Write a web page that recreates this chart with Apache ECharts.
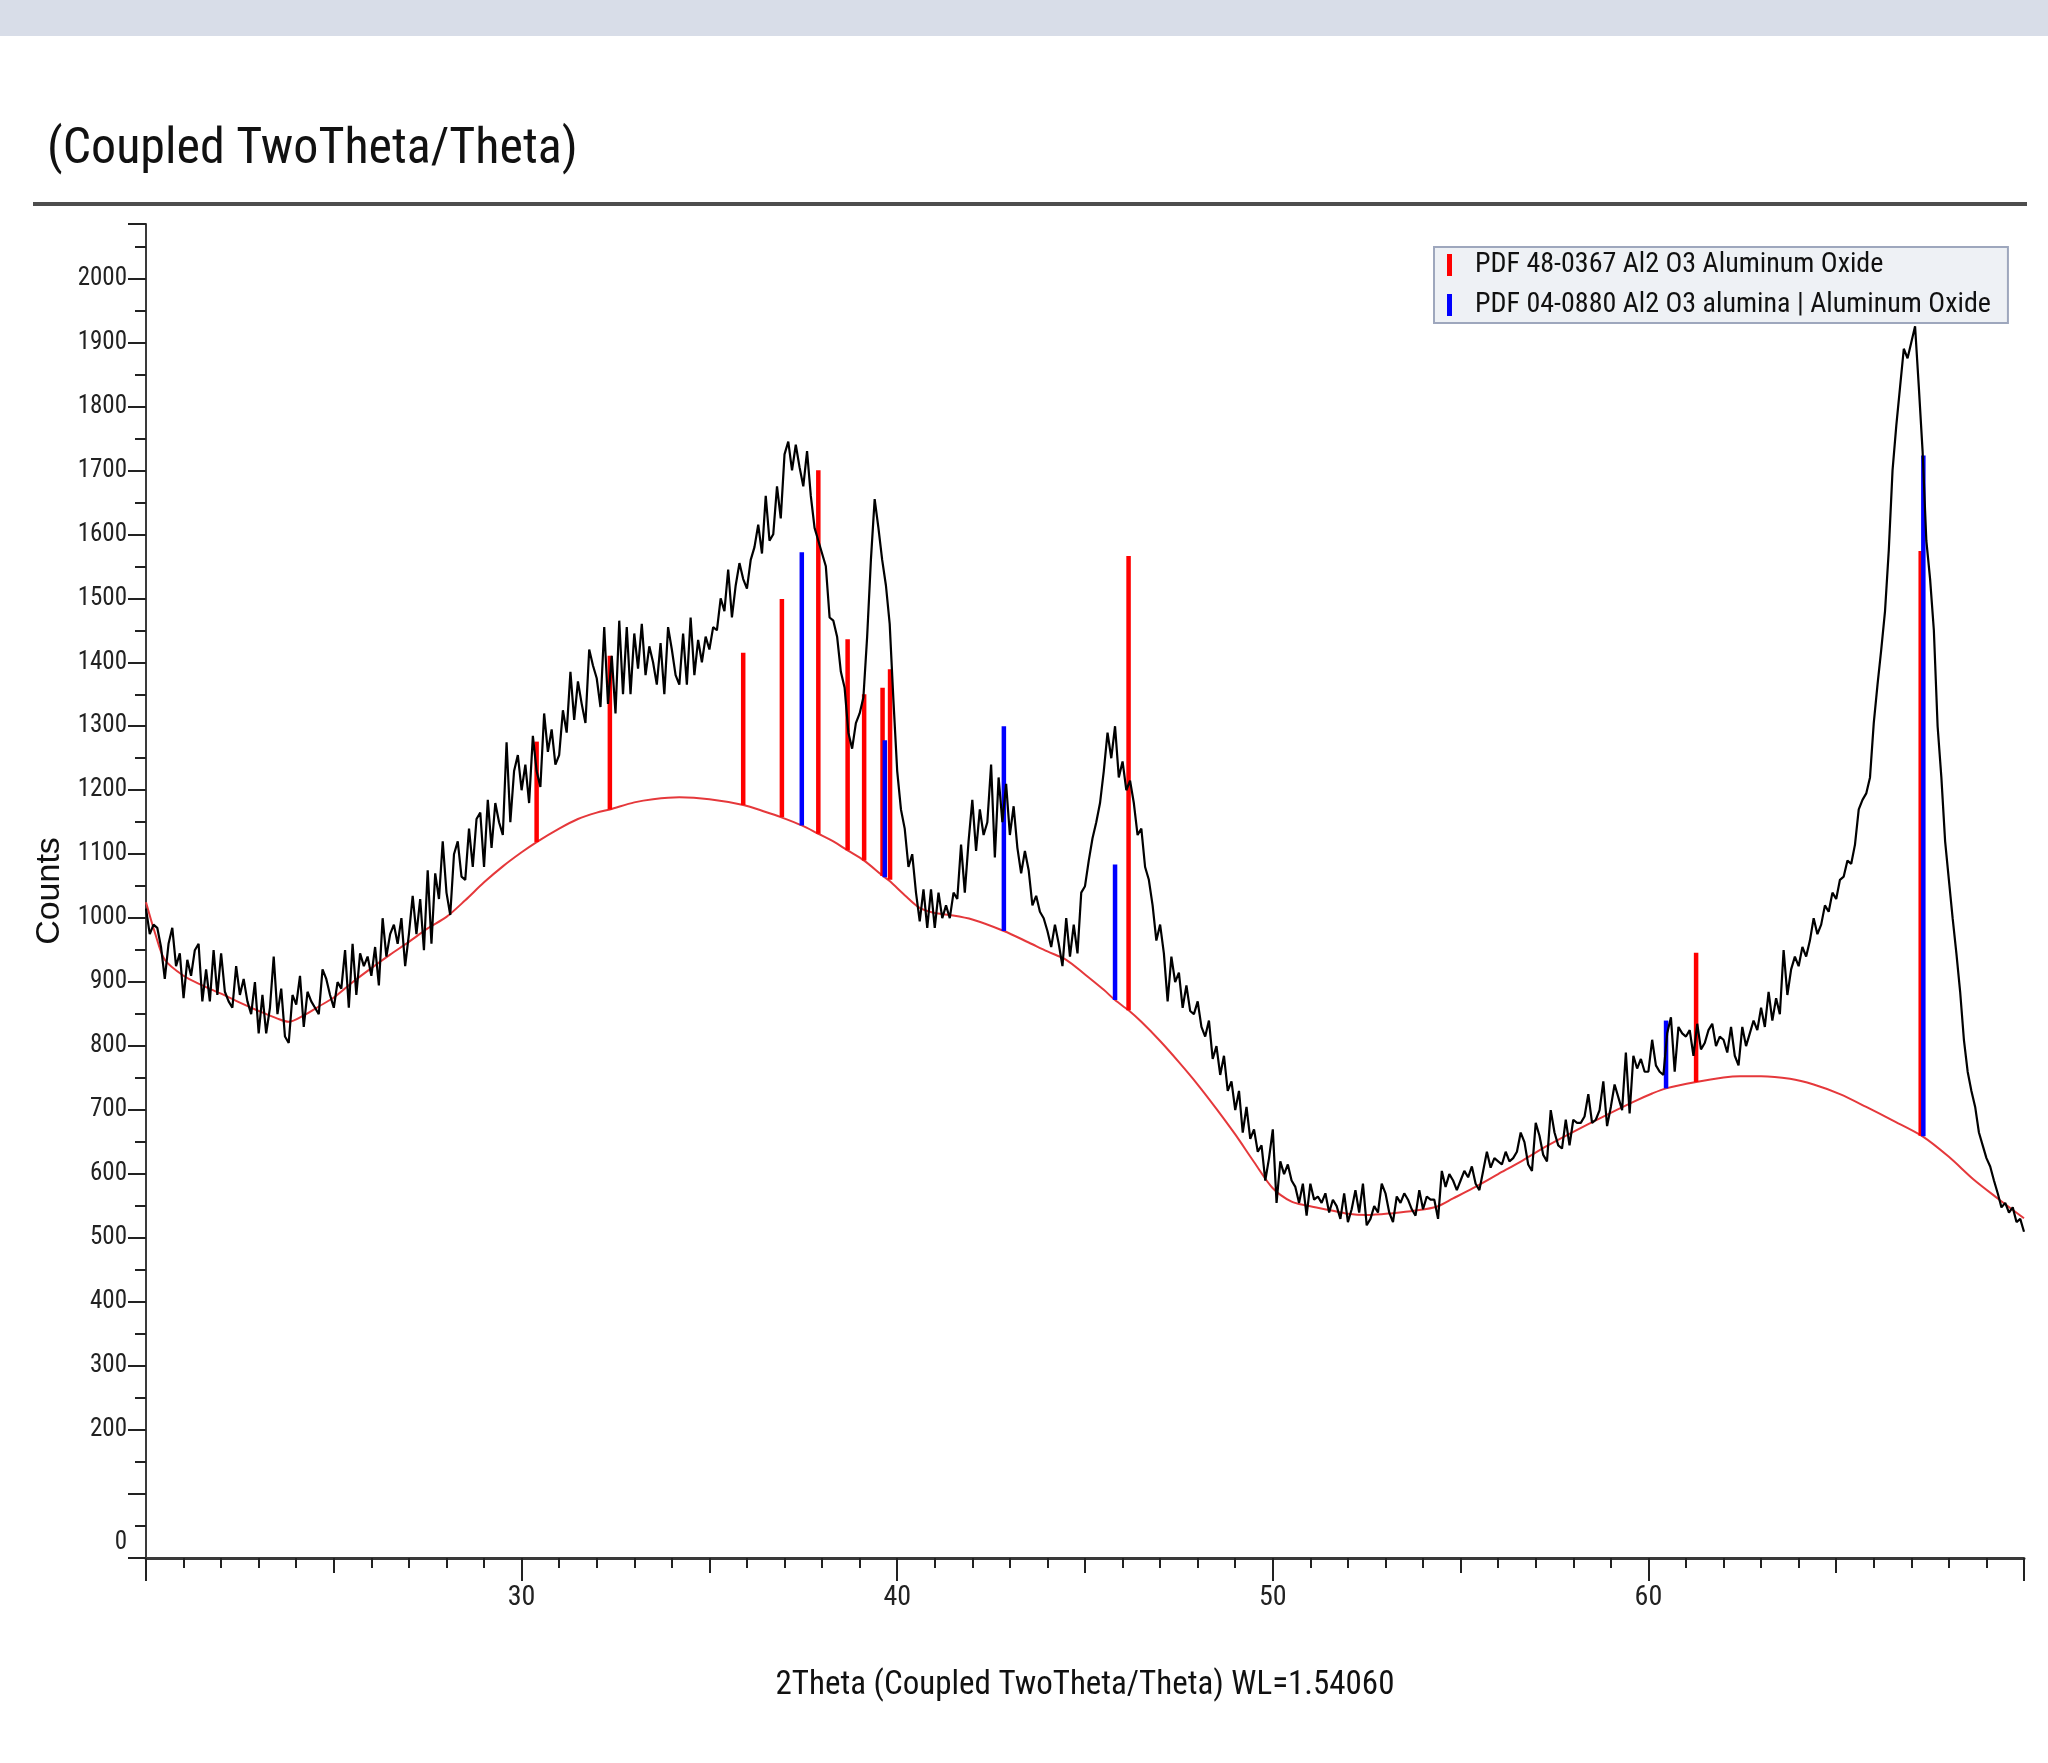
<!DOCTYPE html>
<html lang="en">
<head>
    <meta charset="UTF-8">
    <title>Coupled TwoTheta/Theta</title>
    <script src="https://cdn.jsdelivr.net/npm/echarts/dist/echarts.min.js"></script>
    <style>
        body {
            padding: 0;
            margin: 0;
            border: none;
            background: #fff;
        }
        #ec {
            width: 2048px;
            height: 1763px;
        }
    </style>
</head>
<body>
<div id="ec"></div>
<script>
    // measured scan, one value every 0.1 deg from 20.0 to 70.0
    const twoThetaStart = 20.0;
    const twoThetaStep = 0.1;
    const counts = [
        1015, 975, 990, 985, 955, 905, 960, 985, 925, 945,
        875, 935, 910, 950, 960, 870, 920, 870, 950, 880,
        945, 885, 870, 860, 925, 880, 905, 870, 850, 900,
        820, 880, 820, 860, 940, 850, 890, 815, 805, 880,
        865, 910, 830, 885, 870, 860, 850, 920, 905, 880,
        860, 900, 890, 950, 860, 960, 880, 945, 925, 940,
        910, 955, 895, 1000, 940, 975, 990, 960, 1000, 925,
        975, 1035, 975, 1030, 950, 1075, 960, 1070, 1030, 1120,
        1040, 1005, 1100, 1120, 1065, 1060, 1140, 1080, 1155, 1165,
        1080, 1185, 1110, 1180, 1150, 1130, 1275, 1150, 1230, 1255,
        1200, 1240, 1180, 1285, 1230, 1205, 1320, 1260, 1295, 1240,
        1255, 1325, 1290, 1385, 1310, 1370, 1335, 1305, 1420, 1395,
        1375, 1330, 1455, 1335, 1410, 1320, 1465, 1350, 1455, 1350,
        1445, 1390, 1460, 1380, 1425, 1400, 1365, 1430, 1350, 1455,
        1420, 1380, 1365, 1445, 1365, 1470, 1380, 1435, 1400, 1440,
        1420, 1455, 1450, 1500, 1480, 1545, 1470, 1520, 1555, 1530,
        1515, 1560, 1580, 1615, 1570, 1660, 1590, 1600, 1675, 1625,
        1725, 1745, 1700, 1740, 1705, 1675, 1730, 1660, 1610, 1590,
        1570, 1550, 1470, 1465, 1440, 1385, 1360, 1290, 1265, 1305,
        1320, 1345, 1440, 1560, 1655, 1610, 1560, 1520, 1460, 1340,
        1230, 1170, 1140, 1080, 1100, 1040, 995, 1045, 985, 1045,
        985, 1040, 1000, 1020, 1000, 1040, 1030, 1115, 1040, 1120,
        1185, 1105, 1170, 1130, 1150, 1240, 1095, 1220, 1150, 1210,
        1130, 1175, 1110, 1070, 1105, 1075, 1020, 1035, 1010, 1000,
        980, 955, 990, 960, 925, 1000, 940, 990, 945, 1040,
        1050, 1090, 1125, 1150, 1180, 1230, 1290, 1250, 1300, 1220,
        1245, 1200, 1215, 1180, 1130, 1140, 1080, 1060, 1020, 965,
        990, 945, 870, 940, 900, 915, 860, 895, 855, 850,
        870, 830, 815, 840, 780, 800, 755, 785, 730, 745,
        700, 730, 665, 705, 655, 670, 635, 645, 590, 625,
        670, 555, 620, 600, 615, 590, 580, 555, 585, 535,
        585, 560, 565, 555, 570, 540, 560, 550, 530, 570,
        525, 545, 575, 540, 585, 520, 530, 550, 540, 585,
        570, 540, 525, 565, 555, 570, 560, 545, 535, 575,
        545, 565, 560, 560, 530, 605, 580, 600, 590, 575,
        590, 605, 595, 612, 585, 575, 605, 635, 610, 625,
        620, 615, 635, 620, 625, 635, 665, 650, 615, 605,
        680, 660, 630, 620, 700, 665, 645, 640, 685, 645,
        685, 680, 680, 690, 725, 680, 685, 700, 745, 675,
        705, 740, 720, 700, 790, 695, 785, 765, 780, 760,
        760, 810, 770, 760, 755, 820, 845, 760, 830, 820,
        815, 825, 785, 835, 795, 805, 825, 835, 800, 815,
        810, 790, 830, 785, 770, 830, 800, 820, 840, 825,
        860, 830, 885, 840, 875, 850, 950, 880, 920, 940,
        925, 955, 940, 965, 1000, 975, 990, 1020, 1010, 1040,
        1030, 1060, 1065, 1090, 1085, 1115, 1170, 1185, 1195, 1220,
        1305, 1365, 1420, 1480, 1575, 1700, 1770, 1830, 1890, 1875,
        1900, 1925, 1830, 1730, 1590, 1530, 1450, 1300, 1220, 1120,
        1060, 1000, 945, 885, 810, 760, 730, 705, 665, 645,
        625, 612, 590, 570, 548, 555, 540, 548, 525, 530,
        510
    ];

    // fitted background (red curve)
    const bgTheta = [20.0, 20.25, 20.5, 21.0, 21.5, 22.0, 22.5, 23.0, 23.5, 23.8, 24.2, 24.6, 25.0, 25.5, 26.0, 26.5,
        27.0, 27.5, 28.0, 28.5, 29.0, 29.5, 30.0, 30.4, 31.0, 31.5, 32.0, 32.35, 33.0, 33.5, 34.2, 35.0, 35.9, 36.5,
        36.9, 37.46, 37.9, 38.3, 38.68, 39.12, 39.6, 39.8, 40.2, 40.6, 41.0, 41.4, 42.0, 42.84, 43.5, 44.0, 44.5,
        45.0, 45.5, 45.8, 46.16, 46.5, 47.0, 47.5, 48.0, 48.5, 49.0, 49.5, 50.0, 50.5, 50.9, 51.5, 52.0, 52.5, 53.2,
        53.8, 54.36, 54.8, 55.33, 56.0, 56.67, 57.3, 58.0, 58.8, 59.6, 60.1, 60.47, 61.27, 62.0, 62.44, 63.0, 63.77,
        64.4, 65.1, 65.8, 66.5, 67.3, 68.0, 68.65, 69.3, 70.0];
    const bgCounts = [1025, 975, 935, 910, 895, 882, 868, 855, 843, 838, 848, 862, 876, 900, 922, 943,
        963, 984, 1002, 1028, 1056, 1081, 1103, 1119, 1140, 1155, 1165, 1170, 1181, 1186, 1189, 1186, 1177, 1166,
        1158, 1145, 1132, 1120, 1106, 1090, 1067, 1058, 1036, 1016, 1008, 1005, 998, 980, 962, 948, 935,
        912, 888, 872, 856, 838, 808, 775, 740, 702, 662, 619, 578, 557, 551, 544, 538, 536, 539,
        543, 549, 562, 578, 600, 622, 644, 666, 690, 713, 726, 734, 744, 751, 753, 753, 749,
        740, 725, 705, 684, 659, 627, 592, 562, 531];

    // reference patterns: stick position, foot (on background) and head
    const pdf48Name = 'PDF 48-0367 Al2 O3 Aluminum Oxide';
    const pdf48Theta = [30.40, 32.35, 35.90, 36.93, 37.90, 38.68, 39.12, 39.61, 39.81, 46.16, 61.27, 67.25];
    const pdf48Base = [1119, 1170, 1177, 1158, 1132, 1106, 1090, 1066, 1060, 856, 744, 660];
    const pdf48Top = [1276, 1410, 1415, 1499, 1700, 1436, 1350, 1360, 1389, 1566, 946, 1574];

    const pdf04Name = 'PDF 04-0880 Al2 O3 alumina | Aluminum Oxide';
    const pdf04Theta = [37.46, 39.67, 42.84, 45.80, 60.47, 67.32];
    const pdf04Base = [1145, 1064, 980, 872, 734, 659];
    const pdf04Top = [1572, 1278, 1300, 1084, 840, 1723];

    // the picture uses a narrow face: take the installed condensed face closest to Arial Narrow
    function textWidth(font, text) {
        let ctx = document.createElement('canvas').getContext('2d');
        ctx.font = font;
        return ctx.measureText(text).width;
    }
    const probe = 'PDF 04-0880 Al2 O3 alumina | Aluminum Oxide';
    const baseWidth = textWidth("30px 'Liberation Sans'", probe);
    const fontCandidates = [
        {stretch: '', family: "'Liberation Sans Narrow'"},
        {stretch: 'condensed', family: "Roboto"},
        {stretch: 'condensed', family: "'Open Sans'"}
    ];
    fontCandidates.forEach(c => {
        if (c.stretch) {
            let w = textWidth(c.stretch + ' 30px ' + c.family, probe);
            let w0 = textWidth('30px ' + c.family, probe);
            c.ratio = w < w0 * 0.97 ? w / baseWidth : null;
        } else {
            let w = textWidth('30px ' + c.family + ', monospace', probe);
            let wm = textWidth('30px monospace', probe);
            c.ratio = Math.abs(w - wm) > 0.5 ? w / baseWidth : null;
        }
    });
    let pick = {stretch: '', family: "'Liberation Sans'", ratio: 1};
    fontCandidates.forEach(c => {
        if (c.ratio && c.ratio < 0.93 && Math.abs(c.ratio - 0.82) < Math.abs(pick.ratio - 0.82)) {
            pick = c;
        }
    });
    const narrow = pick.family + ", 'Liberation Sans', Arial, sans-serif";
    const narrowWeight = pick.stretch || 'normal';
    const regular = "'Liberation Sans', Arial, sans-serif";
    // sizes tuned for a face 0.82 as wide as Arial, kept at the same width for the picked face
    const sz = n => Math.round(n * 0.82 / pick.ratio);

    function stickSeries(name, color, theta, base, top, z) {
        return {
            name: name,
            type: 'custom',
            z: z,
            itemStyle: {color: color},
            encode: {x: 0, y: [1, 2]},
            data: theta.map((t, i) => [t, base[i], top[i]]),
            renderItem: function (params, api) {
                let p0 = api.coord([api.value(0), api.value(1)]);
                let p1 = api.coord([api.value(0), api.value(2)]);
                return {
                    type: 'line',
                    shape: {x1: p0[0], y1: p0[1], x2: p1[0], y2: p1[1]},
                    style: {stroke: color, lineWidth: 4.5}
                };
            }
        };
    }

    let ec = echarts.init(document.getElementById('ec'));
    let option = {
        animation: false,
        backgroundColor: '#ffffff',
        graphic: [
            {type: 'rect', shape: {x: 0, y: 0, width: 2048, height: 36}, style: {fill: '#d8dde8'}},
            {
                type: 'text', left: 47, top: 125,
                style: {text: '(Coupled TwoTheta/Theta)', fontSize: sz(53), fontWeight: narrowWeight, fontFamily: narrow, fill: '#111'}
            },
            {type: 'rect', shape: {x: 33, y: 202, width: 1994, height: 4}, style: {fill: '#4d4d4d'}}
        ],
        legend: {
            orient: 'vertical',
            left: 1434,
            top: 247,
            padding: [4, 17, 4, 13],
            itemGap: 12,
            itemWidth: 5,
            itemHeight: 22,
            backgroundColor: '#eef1f5',
            borderColor: '#9ea7bd',
            borderWidth: 2,
            borderRadius: 0,
            textStyle: {fontSize: sz(30), fontWeight: narrowWeight, fontFamily: narrow, color: '#111', padding: [0, 0, 0, 18]},
            data: [
                {name: pdf48Name, icon: 'rect'},
                {name: pdf04Name, icon: 'rect'}
            ]
        },
        grid: {
            left: 146,
            right: 24,
            top: 224,
            bottom: 205,
            containLabel: false
        },
        xAxis: [
            {
                type: 'value',
                min: 20,
                max: 70,
                interval: 10,
                position: 'bottom',
                name: '2Theta (Coupled TwoTheta/Theta) WL=1.54060',
                nameLocation: 'middle',
                nameGap: 111,
                nameTextStyle: {fontSize: sz(35), fontWeight: narrowWeight, fontFamily: narrow, color: '#111'},
                axisLine: {onZero: false, lineStyle: {color: '#3a3a3a', width: 3}},
                axisTick: {length: 23, lineStyle: {color: '#222', width: 2}},
                minorTick: {show: true, splitNumber: 10, length: 10, lineStyle: {color: '#222', width: 2}},
                axisLabel: {
                    margin: 26,
                    fontSize: sz(30),
                    fontWeight: narrowWeight,
                    fontFamily: narrow,
                    color: '#222',
                    formatter: v => (v > 20 && v < 70 && v % 10 === 0) ? String(v) : ''
                },
                splitLine: {show: false}
            },
            {
                type: 'value',
                min: 20,
                max: 70,
                interval: 5,
                position: 'bottom',
                axisLine: {show: false},
                axisTick: {length: 15, lineStyle: {color: '#222', width: 2}},
                axisLabel: {show: false},
                splitLine: {show: false}
            }
        ],
        yAxis: {
            type: 'value',
            min: 0,
            max: 2085,
            interval: 100,
            name: 'Counts',
            nameLocation: 'middle',
            nameRotate: 90,
            nameGap: 67,
            nameTextStyle: {fontSize: 34, fontFamily: regular, color: '#111'},
            axisLine: {show: true, lineStyle: {color: '#3a3a3a', width: 2}},
            axisTick: {show: true, length: 18, lineStyle: {color: '#222', width: 2}},
            minorTick: {show: true, splitNumber: 2, length: 11, lineStyle: {color: '#222', width: 2}},
            axisLabel: {
                margin: 19,
                fontSize: sz(27),
                fontWeight: narrowWeight,
                fontFamily: narrow,
                color: '#222',
                formatter: v => v === 0 ? '{z|0}' : ((v % 100 === 0 && v !== 100) ? String(v) : ''),
                rich: {z: {fontSize: sz(27), fontWeight: narrowWeight, fontFamily: narrow, color: '#222', padding: [0, 0, 30, 0]}}
            },
            splitLine: {show: false}
        },
        series: [
            {
                name: 'Background',
                type: 'line',
                z: 2,
                smooth: 0.3,
                showSymbol: false,
                lineStyle: {color: '#e5383b', width: 2},
                data: bgTheta.map((t, i) => [t, bgCounts[i]])
            },
            stickSeries(pdf48Name, '#ff0000', pdf48Theta, pdf48Base, pdf48Top, 3),
            stickSeries(pdf04Name, '#0000ff', pdf04Theta, pdf04Base, pdf04Top, 4),
            {
                name: 'Scan',
                type: 'line',
                z: 5,
                showSymbol: false,
                lineStyle: {color: '#000000', width: 2.2},
                data: counts.map((c, i) => [+(twoThetaStart + i * twoThetaStep).toFixed(2), c])
            }
        ]
    };
    ec.setOption(option, true);
</script>
</body>
</html>
